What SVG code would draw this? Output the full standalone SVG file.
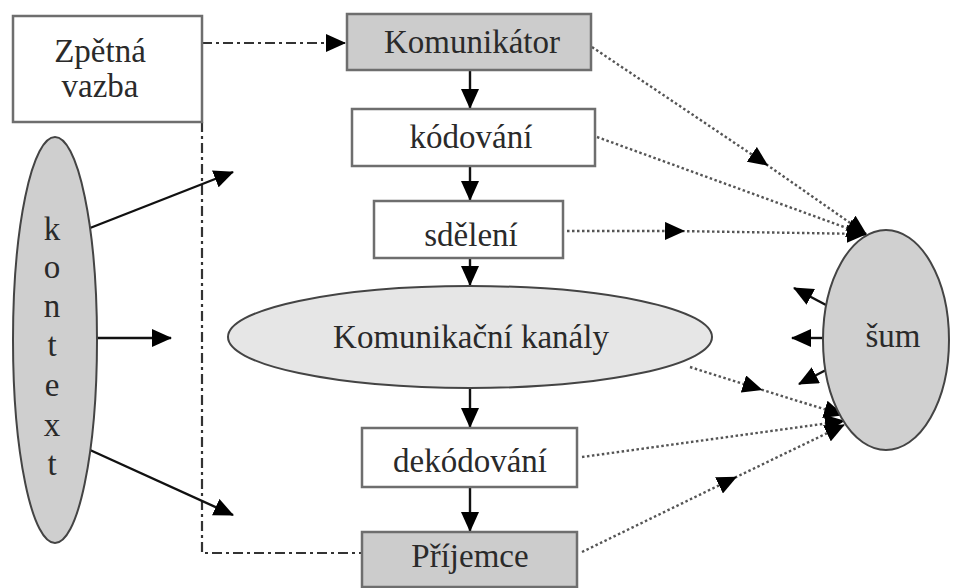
<svg xmlns="http://www.w3.org/2000/svg" width="958" height="588" viewBox="0 0 958 588" font-family="Liberation Serif, Times New Roman, DejaVu Serif, serif">
<style>
.box{stroke:#6e6e6e;stroke-width:2.5}
.white{fill:#fff}
.gray{fill:#cccccc}
.ell{stroke:#444;stroke-width:2}
text{font-size:33px;fill:#2a2a2a;text-anchor:middle}
.solid{stroke:#111;stroke-width:2.4;fill:none}
.dot{stroke:#555;stroke-width:2.4;stroke-dasharray:2.5 2.5;fill:none}
.dashdot{stroke:#333;stroke-width:2.2;stroke-dasharray:10 4 3 4;fill:none}
</style>
<defs>
<marker id="ah" markerUnits="userSpaceOnUse" markerWidth="20" markerHeight="18" refX="19" refY="9" orient="auto"><path d="M0,0 L20,9 L0,18 z" fill="#000"/></marker>
<marker id="am" markerUnits="userSpaceOnUse" markerWidth="20" markerHeight="18" refX="10" refY="9" orient="auto"><path d="M0,0 L20,9 L0,18 z" fill="#000"/></marker>
</defs>
<rect width="958" height="588" fill="#fff"/>
<g id="connectors">
<line class="dashdot" x1="202" y1="43" x2="345" y2="43" marker-end="url(#ah)"/>
<polyline class="dashdot" points="202,122 202,553 362,553"/>
<line class="solid" x1="470" y1="71" x2="470" y2="108" marker-end="url(#ah)"/>
<line class="solid" x1="470" y1="166" x2="470" y2="200" marker-end="url(#ah)"/>
<line class="solid" x1="470" y1="258" x2="470" y2="285" marker-end="url(#ah)"/>
<line class="solid" x1="470" y1="388" x2="470" y2="427" marker-end="url(#ah)"/>
<line class="solid" x1="470" y1="488" x2="470" y2="531" marker-end="url(#ah)"/>
<line class="solid" x1="90" y1="228" x2="233" y2="172" marker-end="url(#ah)"/>
<line class="solid" x1="97" y1="338" x2="171" y2="338" marker-end="url(#ah)"/>
<line class="solid" x1="90" y1="450" x2="233" y2="515" marker-end="url(#ah)"/>
<line class="solid" x1="826" y1="305" x2="794" y2="288" marker-end="url(#ah)"/>
<line class="solid" x1="823" y1="338" x2="792" y2="338" marker-end="url(#ah)"/>
<line class="solid" x1="826" y1="370" x2="799" y2="384" marker-end="url(#ah)"/>
<polyline class="dot" points="592,47 760,160 866,234" marker-mid="url(#am)" marker-end="url(#ah)"/>
<line class="dot" x1="597" y1="137" x2="866" y2="235" marker-end="url(#ah)"/>
<polyline class="dot" points="567,231 675,231 866,234" marker-mid="url(#am)" marker-end="url(#ah)"/>
<polyline class="dot" points="690,367 753,387 843,415" marker-mid="url(#am)" marker-end="url(#ah)"/>
<line class="dot" x1="582" y1="457" x2="844" y2="421" marker-end="url(#ah)"/>
<polyline class="dot" points="582,552 728,481 844,425" marker-mid="url(#am)" marker-end="url(#ah)"/>
</g>
<g id="zpetna-vazba">
<rect class="box white" x="13" y="16" width="189" height="106"/>
<text x="100" y="62">Zpětná</text>
<text x="100" y="97">vazba</text>
</g>
<g id="komunikator">
<rect class="box gray" x="347" y="14" width="244" height="56"/>
<text x="472" y="53">Komunikátor</text>
</g>
<g id="kodovani">
<rect class="box white" x="352" y="109" width="243" height="57"/>
<text x="471" y="148">kódování</text>
</g>
<g id="sdeleni">
<rect class="box white" x="374" y="201" width="189" height="57"/>
<text x="471" y="246">sdělení</text>
</g>
<g id="kanaly">
<ellipse class="ell" cx="470" cy="337" rx="242" ry="51" fill="#e6e6e6"/>
<text x="471" y="348">Komunikační kanály</text>
</g>
<g id="dekodovani">
<rect class="box white" x="362" y="428" width="215" height="59"/>
<text x="470" y="472">dekódování</text>
</g>
<g id="prijemce">
<rect class="box gray" x="362" y="532" width="215" height="55"/>
<text x="470" y="567">Příjemce</text>
</g>
<g id="kontext">
<ellipse class="ell" cx="55" cy="340" rx="42" ry="203" fill="#cfcfcf"/>
<text x="52" y="240">k</text>
<text x="52" y="278">o</text>
<text x="52" y="317">n</text>
<text x="52" y="356">t</text>
<text x="52" y="396">e</text>
<text x="52" y="436">x</text>
<text x="52" y="475">t</text>
</g>
<g id="sum">
<ellipse class="ell" cx="886" cy="340" rx="63" ry="110" fill="#d0d0d0"/>
<text x="893" y="347">šum</text>
</g>
</svg>
